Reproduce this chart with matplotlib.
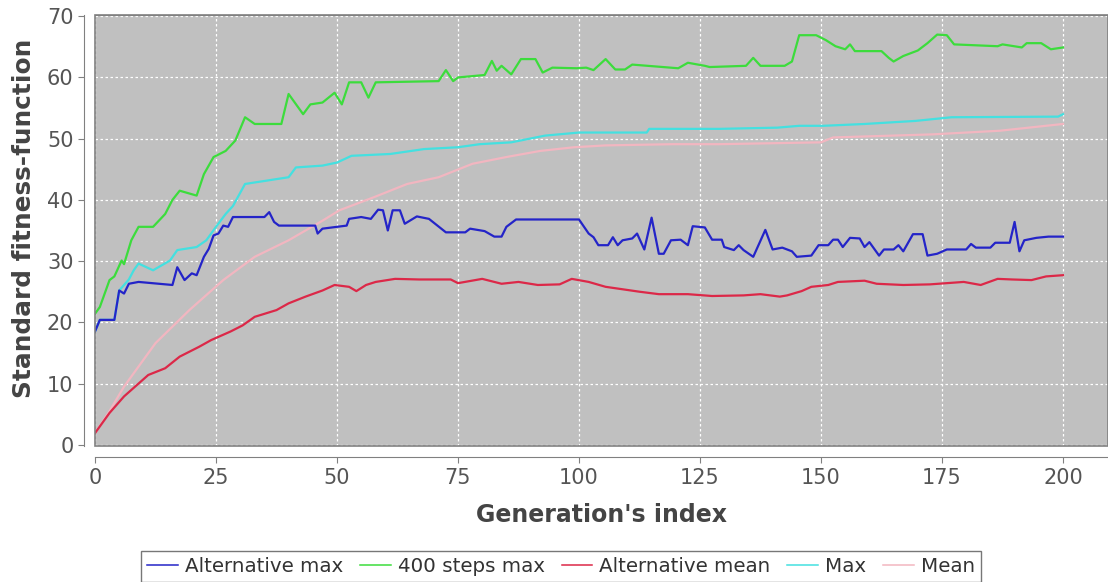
import matplotlib.pyplot as plt
from matplotlib.patches import Rectangle

# Alternative max
alt_max_x = [0, 1, 4, 5, 6, 7, 9, 16, 17, 18.5, 20, 21, 22.5, 23.5, 24.5, 25.5, 26.5, 27.5, 28.5, 35, 36, 37, 38,
             45.5, 46, 47, 52, 52.5, 55, 57, 58.5, 59.5, 60.5, 61.5, 63, 64, 66.5, 69, 72.5, 76.5, 77.5, 80.5, 82.5,
             84, 85, 87, 100, 102, 103, 104, 106, 107, 108, 109, 111, 112, 113.5, 115, 116.5, 117.5, 119, 121, 122.5,
             123.5, 126, 127.5, 129.5, 130, 132, 133, 134, 136, 138.5, 140, 142, 144, 145, 148, 149.5, 151.5, 152.5,
             153.5, 154.5, 156, 158, 159, 160, 162, 163, 165, 166, 167, 169, 171, 172, 174, 176, 180, 181, 182, 185,
             186, 189, 190, 191, 192, 194.5, 197, 200]
alt_max_y = [18.5, 20.4, 20.4, 25.2, 24.7, 26.3, 26.6, 26.1, 29, 26.9, 28, 27.7, 30.7, 32, 34.2, 34.5, 35.8, 35.6, 37.2,
             37.2, 38, 36.4, 35.8, 35.8, 34.5, 35.3, 35.8, 36.9, 37.2, 36.9, 38.4, 38.3, 35, 38.3, 38.3, 36.1, 37.3,
             36.9, 34.7, 34.7, 35.3, 34.9, 34, 34, 35.6, 36.8, 36.8, 34.5, 33.9, 32.6, 32.6, 33.9, 32.6, 33.4, 33.7,
             34.5, 31.9, 37.1, 31.2, 31.2, 33.4, 33.5, 32.6, 35.7, 35.5, 33.5, 33.5, 32.3, 31.8, 32.6, 31.8, 30.7,
             35.1, 31.9, 32.2, 31.6, 30.7, 30.9, 32.6, 32.6, 33.5, 33.5, 32.3, 33.8, 33.7, 32.3, 33.1, 30.9, 31.9,
             31.9, 32.6, 31.6, 34.4, 34.4, 30.9, 31.2, 31.9, 31.9, 32.8, 32.2, 32.2, 33, 33, 36.4, 31.6, 33.4, 33.8,
             34, 34]

# 400 steps max
steps_max_x = [0, 1, 3, 4, 5.5, 6, 7.5, 9, 12, 14.5, 16, 17.5, 21, 22.5, 24.5, 27, 29, 31, 33, 38.5, 40, 43, 44.5,
               47, 49.5, 51, 52.5, 55, 56.5, 58, 71, 72.5, 74, 75, 80.5, 82, 83, 84, 86, 88, 91, 92.5, 94.5, 99.5,
               101.5, 103, 105.5, 107.5, 109.5, 111, 120.5, 122.5, 126, 127, 134.5, 136, 137.5, 142.5, 144, 145.5,
               149, 151, 153, 155, 156, 157, 162.5, 164, 165, 167, 170, 172, 174, 176, 177.5, 186.5, 187.5, 191.5,
               192.5, 195.5, 197.5, 200]
steps_max_y = [21.4, 22.5, 26.9, 27.5, 30.1, 29.5, 33.4, 35.6, 35.6, 37.7, 40, 41.5, 40.7, 44.2, 47, 48, 49.7, 53.5,
               52.4, 52.4, 57.3, 54, 55.6, 55.9, 57.5, 55.6, 59.2, 59.2, 56.7, 59.2, 59.4, 61.2, 59.4, 60, 60.4, 62.7,
               61.1, 61.9, 60.5, 63, 63, 60.8, 61.6, 61.5, 61.6, 61.2, 63, 61.3, 61.3, 62.1, 61.5, 62.4, 61.9, 61.7,
               61.9, 63.2, 61.9, 61.9, 62.6, 66.9, 66.9, 66.1, 65.1, 64.6, 65.4, 64.3, 64.3, 63.2, 62.6, 63.5, 64.4,
               65.6, 67, 66.9, 65.4, 65.1, 65.4, 64.9, 65.6, 65.6, 64.6, 64.9]

# Alternative mean
alt_mean_x = [0, 3, 6, 9, 11, 14.5, 17.5, 21.5, 24, 28, 30.5, 33, 37.5, 40, 43.5, 47, 49.5, 52.5, 54, 56, 58, 62, 67,
              73.5, 75, 80, 84, 87.5, 91.5, 96, 98.5, 102, 105.5, 112.5, 116.5, 122.5, 127.5, 134, 137.5, 141.5, 143,
              146, 148, 151.5, 153.5, 159, 161.5, 167, 172.5, 179.5, 183, 186.5, 189.5, 193.5, 196.5, 200]
alt_mean_y = [1.9, 5.2, 7.9, 10, 11.4, 12.5, 14.4, 16, 17.1, 18.5, 19.5, 20.9, 22, 23.1, 24.2, 25.2, 26.1, 25.8, 25.1,
              26.1, 26.6, 27.1, 27, 27, 26.4, 27.1, 26.3, 26.6, 26.1, 26.2, 27.1, 26.6, 25.8, 25, 24.6, 24.6, 24.3,
              24.4, 24.6, 24.2, 24.4, 25.1, 25.8, 26.1, 26.6, 26.8, 26.3, 26.1, 26.2, 26.6, 26.1, 27.1, 27, 26.9,
              27.5, 27.7]

# Max
max_x = [0, 1, 4, 5, 7, 8, 9, 12, 15.5, 17, 21, 23, 25, 27, 28.5, 31, 40, 41.5, 47, 50, 53, 61, 68, 75, 79.5, 86, 93,
         100, 114, 114.5, 129, 141, 145.5, 150.5, 159, 169.5, 177, 199, 200]
max_y = [18.5, 20.4, 20.4, 25.2, 27, 28.5, 29.6, 28.5, 30.1, 31.8, 32.3, 33.4, 35.6, 37.7, 39, 42.6, 43.7, 45.3, 45.6,
         46.1, 47.2, 47.5, 48.3, 48.6, 49.1, 49.4, 50.5, 51, 51, 51.6, 51.6, 51.8, 52.1, 52.1, 52.4, 52.9, 53.5,
         53.6, 54]

# Mean
mean_x = [0, 3, 6, 12.5, 19.5, 26.5, 33, 40, 47, 50.5, 57.5, 64.5, 71, 78, 85, 92, 99, 105.5, 119.5, 129, 150,
          152.5, 173, 187, 200]
mean_y = [1.9, 5.5, 9.5, 16.6, 22, 26.9, 30.7, 33.4, 36.6, 38.3, 40.4, 42.6, 43.7, 45.9, 47, 48, 48.6, 48.9, 49.1,
          49.1, 49.4, 50.2, 50.7, 51.3, 52.4]

fig = plt.figure(figsize=(11.08, 5.82), dpi=100)
ax = fig.add_axes([95 / 1108, 1 - 446 / 582, 1 - 95 / 1108, (446 - 15) / 582])
ax.set_facecolor('#c0c0c0')

ax.plot(mean_x, mean_y, color='#f2b6c0', lw=1.6, zorder=1, label='Mean')
ax.plot(max_x, max_y, color='#44e0e0', lw=1.6, zorder=2, label='Max')
ax.plot(alt_mean_x, alt_mean_y, color='#dc2848', lw=1.6, zorder=3, label='Alternative mean')
ax.plot(steps_max_x, steps_max_y, color='#3cdc3c', lw=1.6, zorder=4, label='400 steps max')
ax.plot(alt_max_x, alt_max_y, color='#2424c8', lw=1.6, zorder=5, label='Alternative max')

ax.set_xlim(0, 209.3)
ax.set_ylim(-0.2, 70.2)
ax.set_xticks(range(0, 201, 25))
ax.set_yticks(range(0, 71, 10))
ax.grid(True, color='white', linestyle=(0, (2, 2)), linewidth=0.9)
ax.set_axisbelow(True)

for s in ['top', 'right']:
    ax.spines[s].set_color('#808080')
for s in ['left', 'bottom']:
    ax.spines[s].set_position(('outward', 8))
    ax.spines[s].set_color('#808080')
ax.add_patch(Rectangle((0, 0), 1, 1, transform=ax.transAxes, fill=False,
                       edgecolor='#808080', lw=1.2, clip_on=False, zorder=10))

ax.tick_params(colors='#808080', labelcolor='#555555', labelsize=15, length=4)
ax.set_xlabel("Generation's index", fontsize=17, fontweight='bold', color='#444444', labelpad=11)
ax.set_ylabel('Standard fitness-function', fontsize=17.8, fontweight='bold', color='#444444')
ax.yaxis.set_label_coords(-59 / 1013, 0.527)

handles, labels = ax.get_legend_handles_labels()
order = [4, 3, 2, 1, 0]
leg = fig.legend([handles[i] for i in order], [labels[i] for i in order],
                 loc='upper center', bbox_to_anchor=(561 / 1108, 1 - 551 / 582), ncol=5,
                 fontsize=14.3, frameon=True, fancybox=False, edgecolor='#555555',
                 handlelength=1.55, handletextpad=0.35, columnspacing=0.85, borderpad=0.3,
                 borderaxespad=0, labelcolor='#333333')
for line in leg.get_lines():
    line.set_linewidth(1.1)

fig.savefig('out.png', dpi=100)
